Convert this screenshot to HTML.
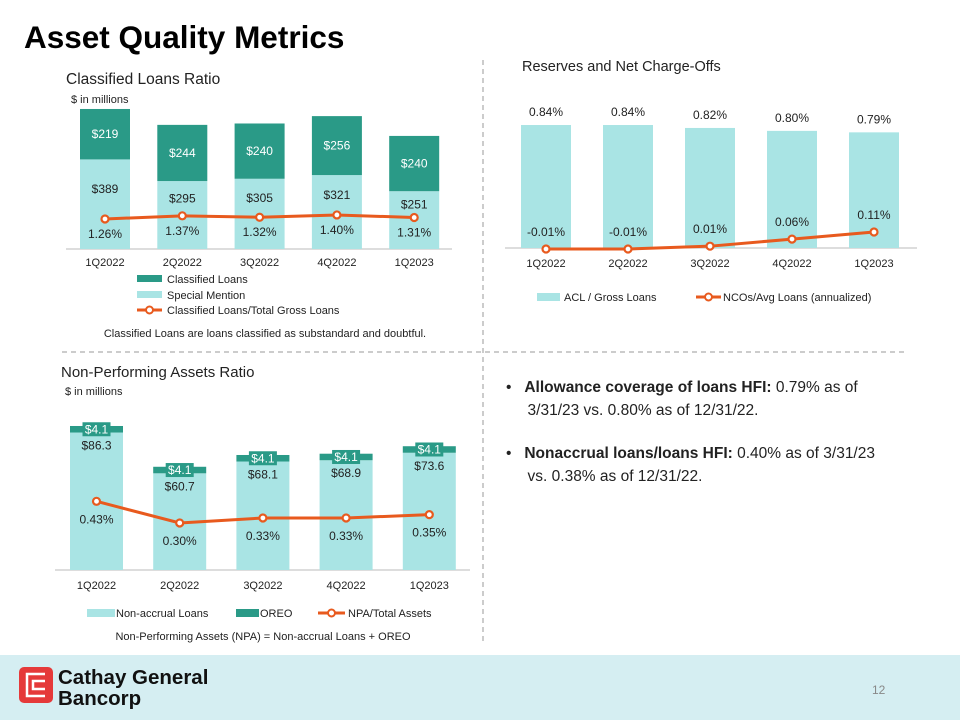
<!DOCTYPE html>
<html><head><meta charset="utf-8"><style>
body{margin:0;width:960px;height:720px;overflow:hidden;background:#fff;font-family:"Liberation Sans",Arial,sans-serif;}
svg text{font-family:"Liberation Sans",Arial,sans-serif;}
.bul{position:absolute;left:506px;font-size:15.5px;color:#222;line-height:23px;width:440px}
</style></head><body>
<svg id="svg" width="960" height="720" xmlns="http://www.w3.org/2000/svg">
<text x="24" y="48" font-size="31.5" font-weight="bold" fill="#000">Asset Quality Metrics</text>
<line x1="483" y1="60" x2="483" y2="645" stroke="#999" stroke-dasharray="5,4"/>
<line x1="62" y1="352" x2="905" y2="352" stroke="#999" stroke-dasharray="5,4"/>
<g id="c1"></g>
<g id="c2"></g>
<g id="c3"></g>
<rect x="0" y="655" width="960" height="65" fill="#d5eef2"/>
<g>
<rect x="19" y="667" width="34" height="36" rx="5" fill="#e53a3a"/>
<path d="M45 674 H27 V696 H45 M45 681 H33 V689 H45" stroke="#fff" stroke-width="2.5" fill="none"/>
<text x="58" y="684" font-size="20.5" font-weight="bold" fill="#111">Cathay General</text>
<text x="58" y="705" font-size="20.5" font-weight="bold" fill="#111">Bancorp</text>
</g>
<text x="872" y="694" font-size="12" fill="#888">12</text>
</svg>
<div class="bul" style="top:376px">•&nbsp;&nbsp;&nbsp;<b>Allowance coverage of loans HFI:</b> 0.79% as of<br>&nbsp;&nbsp;&nbsp;&nbsp;&nbsp;3/31/23 vs. 0.80% as of 12/31/22.</div>
<div class="bul" style="top:442px">•&nbsp;&nbsp;&nbsp;<b>Nonaccrual loans/loans HFI:</b> 0.40% as of 3/31/23<br>&nbsp;&nbsp;&nbsp;&nbsp;&nbsp;vs. 0.38% as of 12/31/22.</div>
<script>
const cats=["1Q2022","2Q2022","3Q2022","4Q2022","1Q2023"];
const specialMention=[389,295,305,321,251];
const classified=[219,244,240,256,240];
const classRatio=[1.26,1.37,1.32,1.40,1.31];
const aclRatio=[0.84,0.84,0.82,0.80,0.79];
const ncoRatio=[-0.01,-0.01,0.01,0.06,0.11];
const nonaccrual=[86.3,60.7,68.1,68.9,73.6];
const oreo=[4.1,4.1,4.1,4.1,4.1];
const npaRatio=[0.43,0.30,0.33,0.33,0.35];
const DARK="#2a9a87",LIGHT="#a9e4e4",OR="#e85a1e";
const NS="http://www.w3.org/2000/svg";
function mk(p,t,a,txt){const e=document.createElementNS(NS,t);for(const k in a)e.setAttribute(k,a[k]);if(txt!==undefined)e.textContent=txt;p.appendChild(e);return e;}
function fmtP(v){return v.toFixed(2)+"%";}
function lineSeries(g,xs,ys,name){
 const pts=xs.map((x,i)=>x+","+ys[i]).join(" ");
 const pl=mk(g,"polyline",{points:pts,fill:"none",stroke:OR,"stroke-width":3});
 
 
 xs.forEach((x,i)=>{const c=mk(g,"circle",{cx:x,cy:ys[i],r:3.5,fill:"#fff",stroke:OR,"stroke-width":2.2});
 
 });
}
// Chart 1
(function(){
 const g=document.getElementById("c1");
 mk(g,"text",{x:66,y:84,"font-size":15.5,fill:"#222"},"Classified Loans Ratio");
 mk(g,"text",{x:71,y:103,"font-size":11,fill:"#222"},"$ in millions");
 const base=249,sc=0.2303,x0=105,step=77.3,bw=50;
 const X=i=>x0+i*step, Y=v=>base-v*sc, YL=v=>255-v*28.6;
 mk(g,"line",{x1:66,x2:452,y1:base,y2:base,stroke:"#bbb"});
 cats.forEach((c,i)=>{
  const x=X(i),yS=Y(specialMention[i]),yC=Y(specialMention[i]+classified[i]);
  const r1=mk(g,"rect",{x:x-bw/2,y:yS,width:bw,height:base-yS,fill:LIGHT});
  
  
  const r2=mk(g,"rect",{x:x-bw/2,y:yC,width:bw,height:yS-yC,fill:DARK});
  
  
  mk(g,"text",{x:x,y:(yC+yS)/2+4,"font-size":12,fill:"#fff","text-anchor":"middle"},"$"+classified[i]);
  mk(g,"text",{x:x,y:(yS+YL(classRatio[i]))/2+4,"font-size":12,fill:"#222","text-anchor":"middle"},"$"+specialMention[i]);
  mk(g,"text",{x:x,y:YL(classRatio[i])+19,"font-size":12,fill:"#222","text-anchor":"middle"},fmtP(classRatio[i]));
  mk(g,"text",{x:x,y:266,"font-size":11,fill:"#222","text-anchor":"middle"},c);
 });
 lineSeries(g,cats.map((c,i)=>X(i)),classRatio.map(YL),"classified-ratio");
 mk(g,"rect",{x:137,y:275,width:25,height:7,fill:DARK});
 mk(g,"text",{x:167,y:283,"font-size":11,fill:"#222"},"Classified Loans");
 mk(g,"rect",{x:137,y:291,width:25,height:7,fill:LIGHT});
 mk(g,"text",{x:167,y:299,"font-size":11,fill:"#222"},"Special Mention");
 mk(g,"line",{x1:137,x2:162,y1:310,y2:310,stroke:OR,"stroke-width":3});
 mk(g,"circle",{cx:149.5,cy:310,r:3.5,fill:"#fff",stroke:OR,"stroke-width":2});
 mk(g,"text",{x:167,y:314,"font-size":11,fill:"#222"},"Classified Loans/Total Gross Loans");
 mk(g,"text",{x:265,y:337,"font-size":11,fill:"#222","text-anchor":"middle"},"Classified Loans are loans classified as substandard and doubtful.");
})();
// Chart 2
(function(){
 const g=document.getElementById("c2");
 mk(g,"text",{x:522,y:71,"font-size":14.5,fill:"#222"},"Reserves and Net Charge-Offs");
 const base=248,x0=546,step=82,bw=50;
 const X=i=>x0+i*step,Y=v=>base-v*146.4,YL=v=>247.6-v*141.7;
 mk(g,"line",{x1:505,x2:917,y1:base,y2:base,stroke:"#bbb"});
 cats.forEach((c,i)=>{
  const x=X(i),y=Y(aclRatio[i]);
  const r=mk(g,"rect",{x:x-bw/2,y:y,width:bw,height:base-y,fill:LIGHT});
  
  
  mk(g,"text",{x:x,y:y-9,"font-size":12,fill:"#222","text-anchor":"middle"},fmtP(aclRatio[i]));
  mk(g,"text",{x:x,y:YL(ncoRatio[i])-13,"font-size":12,fill:"#222","text-anchor":"middle"},fmtP(ncoRatio[i]));
  mk(g,"text",{x:x,y:267,"font-size":11,fill:"#222","text-anchor":"middle"},c);
 });
 lineSeries(g,cats.map((c,i)=>X(i)),ncoRatio.map(YL),"nco-ratio");
 mk(g,"rect",{x:537,y:293,width:23,height:8,fill:LIGHT});
 mk(g,"text",{x:564,y:301,"font-size":11,fill:"#222"},"ACL / Gross Loans");
 mk(g,"line",{x1:696,x2:721,y1:297,y2:297,stroke:OR,"stroke-width":3});
 mk(g,"circle",{cx:708.5,cy:297,r:3.5,fill:"#fff",stroke:OR,"stroke-width":2});
 mk(g,"text",{x:723,y:301,"font-size":11,fill:"#222"},"NCOs/Avg Loans (annualized)");
})();
// Chart 3
(function(){
 const g=document.getElementById("c3");
 mk(g,"text",{x:61,y:377,"font-size":15,fill:"#222"},"Non-Performing Assets Ratio");
 mk(g,"text",{x:65,y:395,"font-size":11,fill:"#222"},"$ in millions");
 const base=570,sc=1.593,x0=96.5,step=83.2,bw=53;
 const X=i=>x0+i*step,Y=v=>base-v*sc,YL=v=>573-v*166.7;
 mk(g,"line",{x1:55,x2:470,y1:base,y2:base,stroke:"#bbb"});
 cats.forEach((c,i)=>{
  const x=X(i),yN=Y(nonaccrual[i]),yO=Y(nonaccrual[i]+oreo[i]);
  const r1=mk(g,"rect",{x:x-bw/2,y:yN,width:bw,height:base-yN,fill:LIGHT});
  
  
  const r2=mk(g,"rect",{x:x-bw/2,y:yO,width:bw,height:yN-yO,fill:DARK});
  
  
  const my=(yO+yN)/2;
  mk(g,"rect",{x:x-14,y:my-7,width:28,height:14,fill:DARK});
  mk(g,"text",{x:x,y:my+4,"font-size":12,fill:"#fff","text-anchor":"middle"},"$"+oreo[i].toFixed(1));
  mk(g,"text",{x:x,y:yN+17,"font-size":12,fill:"#222","text-anchor":"middle"},"$"+nonaccrual[i].toFixed(1));
  mk(g,"text",{x:x,y:YL(npaRatio[i])+22,"font-size":12,fill:"#222","text-anchor":"middle"},fmtP(npaRatio[i]));
  mk(g,"text",{x:x,y:589,"font-size":11,fill:"#222","text-anchor":"middle"},c);
 });
 lineSeries(g,cats.map((c,i)=>X(i)),npaRatio.map(YL),"npa-ratio");
 mk(g,"rect",{x:87,y:609,width:28,height:8,fill:LIGHT});
 mk(g,"text",{x:116,y:617,"font-size":11,fill:"#222"},"Non-accrual Loans");
 mk(g,"rect",{x:236,y:609,width:23,height:8,fill:DARK});
 mk(g,"text",{x:260,y:617,"font-size":11,fill:"#222"},"OREO");
 mk(g,"line",{x1:318,x2:345,y1:613,y2:613,stroke:OR,"stroke-width":3});
 mk(g,"circle",{cx:331.5,cy:613,r:3.5,fill:"#fff",stroke:OR,"stroke-width":2});
 mk(g,"text",{x:348,y:617,"font-size":11,fill:"#222"},"NPA/Total Assets");
 mk(g,"text",{x:263,y:640,"font-size":11,fill:"#222","text-anchor":"middle"},"Non-Performing Assets (NPA) = Non-accrual Loans + OREO");
})();
</script>
</body></html>
